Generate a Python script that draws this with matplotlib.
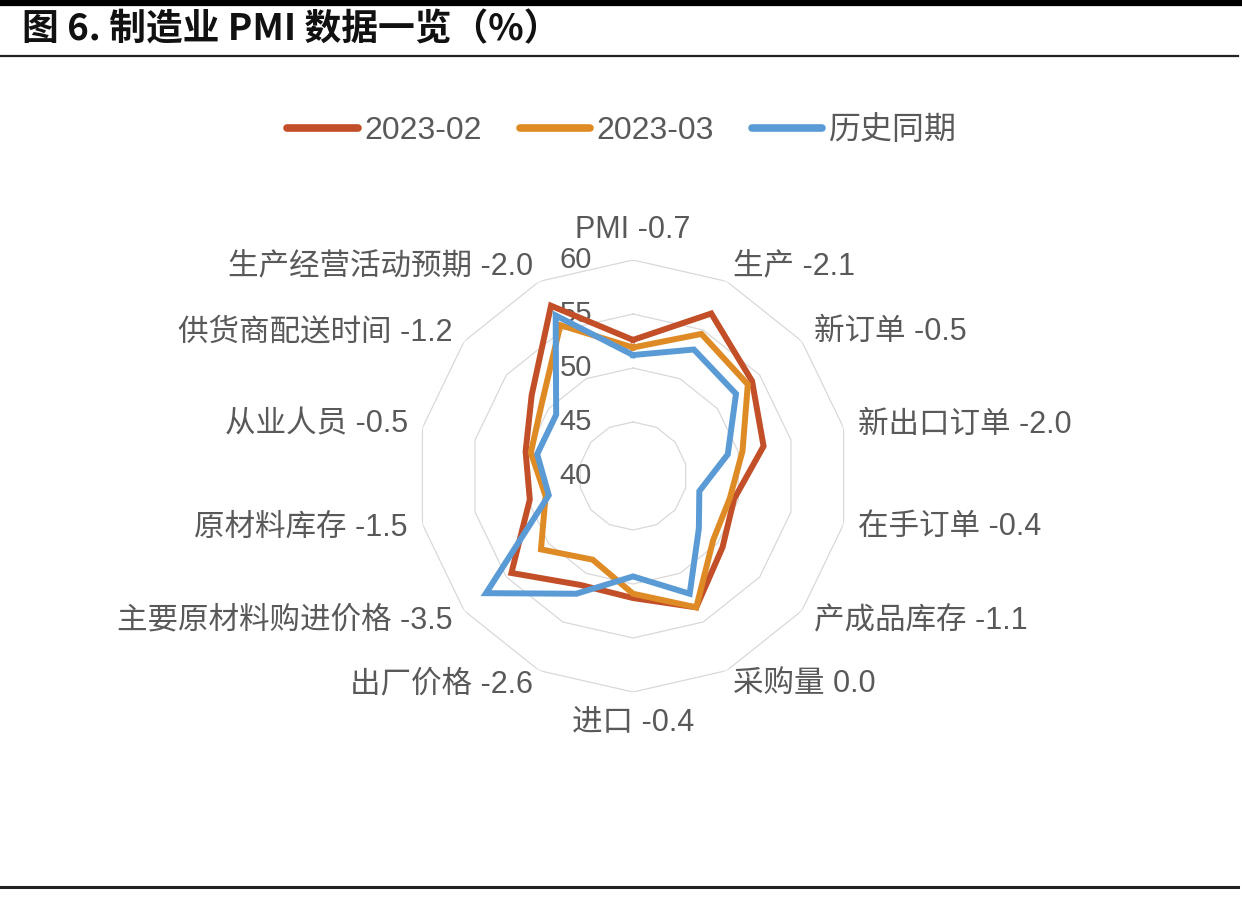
import numpy as np
import matplotlib
matplotlib.use("Agg")
import matplotlib.pyplot as plt
from matplotlib.lines import Line2D
from matplotlib.transforms import offset_copy

plt.rcParams['font.family'] = ['Liberation Sans', 'Noto Sans CJK SC', 'DejaVu Sans']

categories = ['PMI', '生产', '新订单', '新出口订单', '在手订单', '产成品库存', '采购量',
              '进口', '出厂价格', '主要原材料购进价格', '原材料库存', '从业人员',
              '供货商配送时间', '生产经营活动预期']
changes = ['-0.7', '-2.1', '-0.5', '-2.0', '-0.4', '-1.1', '0.0',
           '-0.4', '-2.6', '-3.5', '-1.5', '-0.5', '-1.2', '-2.0']
feb_2023 = [52.6, 56.7, 54.1, 52.4, 49.6, 50.6, 53.5, 51.3, 51.2, 54.4, 49.8, 50.2, 52.0, 57.5]
mar_2023 = [51.9, 54.6, 53.6, 50.4, 49.2, 49.5, 53.5, 50.9, 48.6, 50.9, 48.3, 49.7, 50.8, 55.5]
history = [51.2, 53.0, 52.2, 49.0, 46.3, 47.8, 52.1, 49.3, 52.1, 57.4, 48.0, 49.1, 49.1, 56.5]
series_names = ['2023-02', '2023-03', '历史同期']
series_colors = ['#C24F27', '#DF8B25', '#5B9BD5']
rings = [45, 50, 55, 60]
r_min, r_max = 40, 60

W, H = 1242, 907
fig = plt.figure(figsize=(W / 100, H / 100), dpi=100)

# header/footer rules
fig.add_artist(Line2D([0, 1], [1 - 2.5 / H, 1 - 2.5 / H], color='black', lw=4.5))
fig.add_artist(Line2D([0, 0.997], [1 - 56 / H, 1 - 56 / H], color='#222222', lw=1.6))
fig.add_artist(Line2D([0, 0.997], [1 - 887 / H, 1 - 887 / H], color='#222222', lw=2.2))
fig.text(22 / W, 1 - 30 / H, '图 6. 制造业 PMI 数据一览（%）', fontsize=26.5, fontweight='bold',
         family=['Noto Sans CJK SC', 'DejaVu Sans'], ha='left', va='center', color='#111111')

cx, cy, R = 633, 476, 216
ax = fig.add_axes([(cx - R) / W, (H - cy - R) / H, 2 * R / W, 2 * R / H], projection='polar')
ax.set_theta_zero_location('N')
ax.set_theta_direction(-1)
ax.set_ylim(r_min, r_max)
ax.grid(False)
ax.spines['polar'].set_visible(False)
ax.set_xticks([])
ax.set_yticks([])
ax.patch.set_alpha(0)

n = len(categories)
theta = np.linspace(0, 2 * np.pi, n, endpoint=False)
theta_c = np.append(theta, theta[0])

for rv in rings:
    ax.plot(theta_c, [rv] * (n + 1), color='#D9D9D9', lw=0.9, zorder=1)

for vals, name, col in zip([feb_2023, mar_2023, history], series_names, series_colors):
    v = list(vals) + [vals[0]]
    ax.plot(theta_c, v, color=col, lw=4.3, label=name, zorder=3, solid_joinstyle='miter')

# radial labels
off = offset_copy(ax.transData, fig=fig, x=-41, y=0, units='dots')
for rv in [40, 45, 50, 55, 60]:
    ax.text(0, rv, str(rv), transform=off, ha='right', va='center', fontsize=21,
            color='#595959', zorder=2)

# category labels
r_lab = r_min + (r_max - r_min) * 231 / 216
for t, c, d in zip(theta, categories, changes):
    s = np.sin(t)
    if abs(s) < 1e-6:
        ha = 'center'
        va = 'bottom' if np.cos(t) > 0 else 'top'
    else:
        ha = 'left' if s > 0 else 'right'
        va = 'center'
    ax.text(t, r_lab, f'{c} {d}', ha=ha, va=va, fontsize=22, color='#595959')

handles = [Line2D([], [], color=c, lw=5.5, solid_capstyle='round') for c in series_colors]
fig.legend(handles, series_names, loc='center', bbox_to_anchor=(622 / W, 1 - 131 / H),
           ncol=3, frameon=False, fontsize=23, handlelength=2.2, handletextpad=0.2,
           columnspacing=1.2, labelcolor='#595959')

fig.savefig('out.png', dpi=100)
